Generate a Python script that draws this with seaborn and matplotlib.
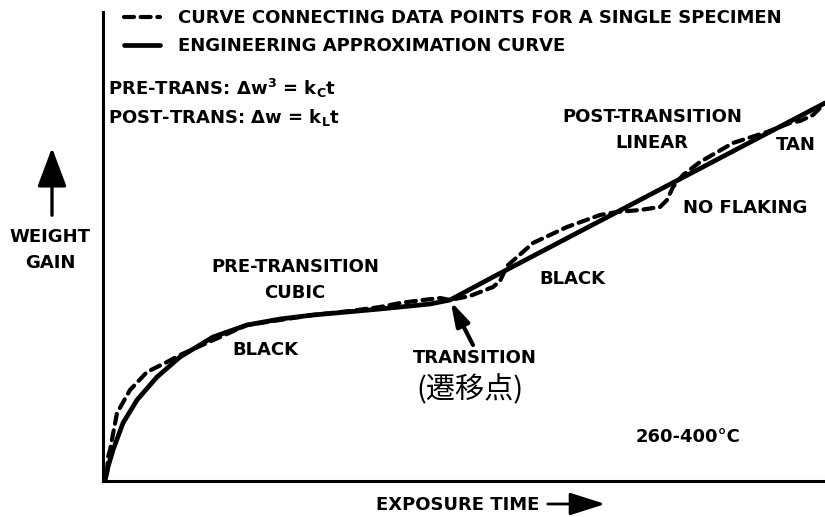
import matplotlib
matplotlib.use("Agg")
import matplotlib.pyplot as plt
from matplotlib.patches import FancyArrowPatch
import seaborn as sns
import pandas as pd

# Exposure time / weight gain, arbitrary units (schematic)
approx_time = [2, 5, 10, 20, 34, 54, 77, 110, 144, 177, 210, 244, 277, 327, 347, 390, 722]
approx_gain = [0, 14, 31, 58, 81, 104, 124, 144, 156, 162, 166, 169, 172, 177, 181, 204, 378]

specimen_time = [4, 5, 7, 14, 27, 44, 64, 77, 144, 210, 247, 277, 297, 320, 337, 347,
                 367, 390, 397, 404, 430, 464, 497, 514, 537, 557, 564, 570, 580,
                 597, 630, 664, 687, 697, 710, 722]
specimen_gain = [8, 24, 31, 68, 91, 109, 119, 126, 156, 166, 170, 174, 178, 181, 183, 181,
                 185, 194, 200, 215, 238, 254, 266, 269, 271, 274, 281, 294, 306,
                 319, 338, 349, 358, 360, 366, 378]

approx_label = "ENGINEERING APPROXIMATION CURVE"
specimen_label = "CURVE CONNECTING DATA POINTS FOR A SINGLE SPECIMEN"

sns.set_theme(style="white")
plt.rcParams["font.family"] = ["DejaVu Sans"]
plt.rcParams["font.weight"] = "bold"
plt.rcParams["text.color"] = "black"
plt.rcParams["mathtext.fontset"] = "dejavusans"
plt.rcParams["mathtext.default"] = "bf"

W, H = 825, 517
FS = 13
fig = plt.figure(figsize=(W / 100, H / 100), dpi=100)
ax = fig.add_axes([103 / W, (H - 481) / H, (W - 103) / W, (481 - 12) / H])

spec_df = pd.DataFrame({"t": specimen_time, "w": specimen_gain})
appr_df = pd.DataFrame({"t": approx_time, "w": approx_gain})

sns.lineplot(data=spec_df, x="t", y="w", ax=ax, sort=False, estimator=None,
             color="black", lw=3.0, label=specimen_label)
ax.lines[-1].set_dashes([2.4, 1.6])
sns.lineplot(data=appr_df, x="t", y="w", ax=ax, sort=False, estimator=None,
             color="black", lw=3.4, label=approx_label)
for ln in ax.lines:
    ln.set_solid_joinstyle("round")
    ln.set_dash_capstyle("round")

ax.set_xlim(0, 722)
ax.set_ylim(0, 469)
ax.set_xticks([])
ax.set_yticks([])
ax.set_xlabel("")
ax.set_ylabel("")
for side in ("top", "right"):
    ax.spines[side].set_visible(False)
for side in ("left", "bottom"):
    ax.spines[side].set_color("black")
    ax.spines[side].set_linewidth(2.2)

ax.legend(loc="upper left", bbox_to_anchor=(14 / 722, 1.022), frameon=False,
          handlelength=2.0, handletextpad=1.0, labelspacing=0.55,
          borderaxespad=0.0, labelcolor="black",
          prop={"size": FS, "weight": "bold"})

txt = dict(color="black", fontsize=FS, fontweight="bold")


def px(x, y):
    return (x / W, 1 - y / H)


fig.text(*px(108, 88), r"PRE-TRANS: $\Delta w^{3}$ = $k_{C}t$", ha="left", va="center", **txt)
fig.text(*px(108, 117), r"POST-TRANS: $\Delta w$ = $k_{L}t$", ha="left", va="center", **txt)

fig.text(*px(50, 250), "WEIGHT\nGAIN", ha="center", va="center", linespacing=1.6, **txt)
fig.add_artist(FancyArrowPatch(
    px(52, 218), px(52, 145), transform=fig.transFigure,
    arrowstyle="-|>,head_length=24,head_width=9", color="black", lw=2.4,
    mutation_scale=1))

fig.text(*px(458, 505), "EXPOSURE TIME", ha="center", va="center", **txt)
fig.add_artist(FancyArrowPatch(
    px(545, 504), px(608, 504), transform=fig.transFigure,
    arrowstyle="-|>,head_length=22,head_width=7", color="black", lw=2.0,
    mutation_scale=1))

fig.text(*px(295, 280), "PRE-TRANSITION\nCUBIC", ha="center", va="center", linespacing=1.6, **txt)
fig.text(*px(265, 350), "BLACK", ha="center", va="center", **txt)
fig.text(*px(572, 279), "BLACK", ha="center", va="center", **txt)
fig.text(*px(652, 130), "POST-TRANSITION\nLINEAR", ha="center", va="center", linespacing=1.6, **txt)
fig.text(*px(796, 145), "TAN", ha="center", va="center", **txt)
fig.text(*px(745, 208), "NO FLAKING", ha="center", va="center", **txt)
fig.text(*px(688, 437), "260-400°C", ha="center", va="center", **txt)

fig.text(*px(475, 358), "TRANSITION", ha="center", va="center", **txt)
fig.text(*px(470, 390), "(遷移点)", ha="center", va="center", fontsize=21,
         fontweight="normal", color="black",
         family=["Noto Sans CJK JP", "DejaVu Sans"])

# pointer to the transition point on the approximation curve
ax.annotate("", xy=(approx_time[14], approx_gain[14]), xycoords="data",
            xytext=px(473, 345), textcoords="figure fraction",
            arrowprops=dict(arrowstyle="-|>,head_length=1.2,head_width=0.35",
                            color="black", lw=3.0, shrinkA=0, shrinkB=1))

fig.savefig("out.png", dpi=100)
